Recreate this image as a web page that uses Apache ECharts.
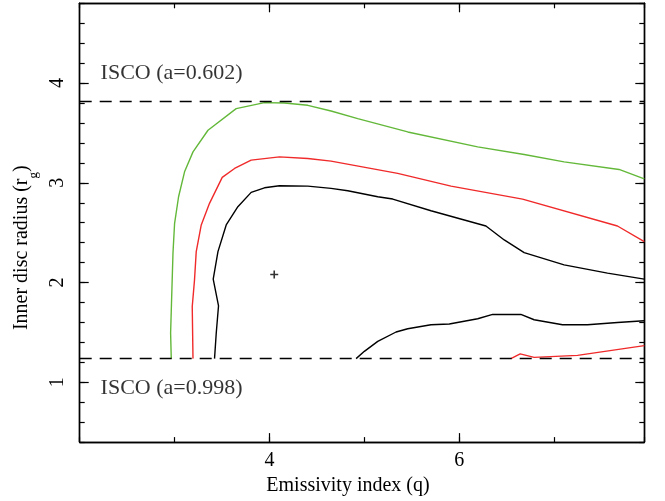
<!DOCTYPE html>
<html>
<head>
<meta charset="utf-8">
<script src="https://cdn.jsdelivr.net/npm/echarts@6/dist/echarts.min.js"></script>
<style>
html,body{margin:0;padding:0;background:#fff;}
#chart{width:665px;height:501px;}
</style>
</head>
<body>
<div id="chart"></div>
<script>
// ---- data ----
var xRange = [2, 7.95];
var yRange = [0.4, 4.8];
var xMajorTicks = [4, 6];
var yMajorTicks = [1, 2, 3, 4];
var iscoLow = 1.237;   // a = 0.998
var iscoHigh = 3.82;   // a = 0.602
var iscoLowLabel = 'ISCO (a=0.998)';
var iscoHighLabel = 'ISCO (a=0.602)';
var iscoLowLabelPos = [2.22, 0.94];
var iscoHighLabelPos = [2.22, 4.10];
var bestFit = [4.05, 2.08];

var greenContour = [
  [2.965,1.237],[2.958,1.494],[2.983,2.294],[3.0,2.594],[3.042,2.86],[3.105,3.11],
  [3.194,3.31],[3.352,3.527],[3.649,3.744],[3.947,3.804],[4.158,3.80],[4.404,3.777],
  [4.649,3.72],[4.93,3.644],[5.457,3.51],[6.194,3.36],[6.684,3.284],[7.105,3.21],
  [7.684,3.134],[7.95,3.04]
];
var redContour = [
  [3.194,1.237],[3.186,1.76],[3.21,2.027],[3.228,2.31],[3.281,2.577],[3.368,2.794],
  [3.502,3.054],[3.632,3.144],[3.807,3.227],[4.105,3.26],[4.404,3.244],[4.649,3.217],
  [5.351,3.094],[5.913,2.967],[6.667,2.837],[7.667,2.567],[7.95,2.41]
];
var blackContour = [
  [3.421,1.237],[3.439,1.494],[3.463,1.767],[3.407,2.034],[3.457,2.31],[3.544,2.577],
  [3.667,2.76],[3.807,2.904],[3.947,2.95],[4.105,2.97],[4.404,2.967],[4.649,2.944],
  [4.825,2.92],[5.141,2.86],[5.299,2.837],[5.702,2.72],[6.053,2.627],[6.281,2.567],
  [6.474,2.427],[6.684,2.30],[7.105,2.177],[7.562,2.094],[7.95,2.034]
];
var blackLower = [
  [4.913,1.237],[5.0,1.31],[5.141,1.41],[5.334,1.504],[5.457,1.537],[5.702,1.577],
  [5.895,1.584],[6.194,1.637],[6.352,1.68],[6.649,1.68],[6.789,1.627],[7.088,1.577],
  [7.351,1.577],[7.667,1.60],[7.95,1.617]
];
var redLower = [
  [6.544,1.237],[6.642,1.284],[6.789,1.25],[7.246,1.27],[7.95,1.367]
];

// ---- styling ----
var FONT = '"Liberation Serif", "DejaVu Serif", serif';
var GREEN = '#63b83a';
var RED = '#f02a2a';
var BLACK = '#000';

function xAx(pos, major, labels) {
  return {
    type: 'value', position: pos, min: xRange[0], max: xRange[1], interval: 1,
    axisLine: {show: true, onZero: false, lineStyle: {color: BLACK, width: 1.4}},
    axisTick: major ? {show: true, inside: true, length: 9, customValues: xMajorTicks, lineStyle: {color: BLACK, width: 1.2}}
                    : {show: true, inside: true, length: 5, lineStyle: {color: BLACK, width: 1.2}},
    axisLabel: labels ? {show: true, customValues: xMajorTicks, color: BLACK, fontFamily: FONT, fontSize: 20, margin: 9}
                      : {show: false},
    splitLine: {show: false},
    name: labels ? 'Emissivity index (q)' : '',
    nameLocation: 'middle', nameGap: 32,
    nameTextStyle: {color: BLACK, fontFamily: FONT, fontSize: 20, padding: [0, 28, 0, 0]}
  };
}
function yAx(pos, major, labels) {
  return {
    type: 'value', position: pos, min: yRange[0], max: yRange[1], interval: 0.2,
    axisLine: {show: true, onZero: false, lineStyle: {color: BLACK, width: 1.4}},
    axisTick: major ? {show: true, inside: true, length: 9, customValues: yMajorTicks, lineStyle: {color: BLACK, width: 1.2}}
                    : {show: true, inside: true, length: 5, lineStyle: {color: BLACK, width: 1.2}},
    axisLabel: labels ? {show: true, customValues: yMajorTicks, rotate: 90, color: BLACK, fontFamily: FONT, fontSize: 20, margin: 12}
                      : {show: false},
    splitLine: {show: false},
    name: labels ? '{n|Inner disc radius (r}{s|g}{n|)}' : '',
    nameLocation: 'middle', nameGap: 46, nameRotate: 90,
    nameTextStyle: {
      color: BLACK, fontFamily: FONT, fontSize: 20, padding: [0, 50, 0, 0],
      rich: {
        n: {fontFamily: FONT, fontSize: 20, color: BLACK},
        s: {fontFamily: FONT, fontSize: 13, color: BLACK, verticalAlign: 'bottom', padding: [0,0,-8,0]}
      }
    }
  };
}

function contour(data, color) {
  return {
    type: 'line', data: data, xAxisIndex: 0, yAxisIndex: 0,
    showSymbol: false, symbol: 'none', smooth: false, animation: false,
    lineStyle: {color: color, width: 1.4}, silent: true, z: 3
  };
}

var chart = echarts.init(document.getElementById('chart'), null, {renderer: 'canvas'});
chart.setOption({
  animation: false,
  backgroundColor: '#fff',
  grid: {left: 79.7, right: 20.7, top: 3.3, bottom: 58, containLabel: false},
  xAxis: [xAx('bottom', true, true), xAx('bottom', false, false), xAx('top', true, false), xAx('top', false, false)],
  yAxis: [yAx('left', true, true), yAx('left', false, false), yAx('right', true, false), yAx('right', false, false)],
  series: [
    contour(greenContour, GREEN),
    contour(redContour, RED),
    contour(blackContour, BLACK),
    contour(blackLower, BLACK),
    contour(redLower, RED),
    {
      type: 'line', data: [], xAxisIndex: 0, yAxisIndex: 0, silent: true,
      markLine: {
        silent: true, symbol: ['none', 'none'], animation: false,
        label: {show: false},
        lineStyle: {color: BLACK, width: 1.4, type: [12, 8]},
        data: [{yAxis: iscoHigh}, {yAxis: iscoLow}]
      }
    },
    {
      type: 'scatter', xAxisIndex: 0, yAxisIndex: 0, silent: true,
      data: [bestFit],
      symbol: 'path://M4,0h2v4h4v2h-4v4h-2v-4h-4v-2h4z', symbolSize: 8,
      itemStyle: {color: BLACK}, z: 4
    },
    {
      type: 'scatter', xAxisIndex: 0, yAxisIndex: 0, silent: true,
      symbolSize: 0,
      data: [
        {value: iscoHighLabelPos, name: iscoHighLabel},
        {value: iscoLowLabelPos, name: iscoLowLabel}
      ],
      label: {show: true, position: 'right', distance: 0, formatter: '{b}',
              color: BLACK, fontFamily: FONT, fontSize: 22}
    }
  ]
});
</script>
</body>
</html>
